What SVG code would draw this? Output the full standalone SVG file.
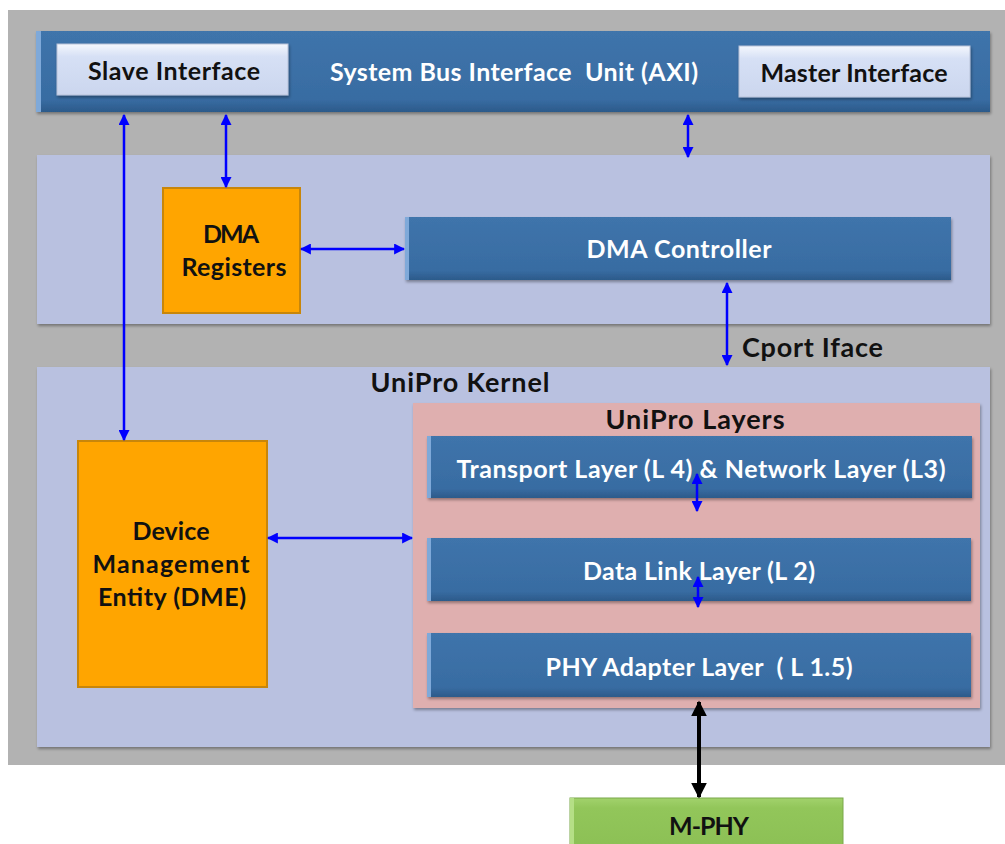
<svg xmlns="http://www.w3.org/2000/svg" width="1005" height="844" viewBox="0 0 1005 844">
  <defs>
    <style>
      .lbl { font-family: Lato, "Liberation Sans", sans-serif; font-weight: bold; font-size: 25px; text-anchor: middle; white-space: pre; }
      .big { font-size: 27px; }
      .dark { fill: #111111; }
      .light { fill: #ffffff; }
      .bar { fill: url(#barGrad); }
      .bevel { fill: #7fa9d9; }
      .panel { fill: #b9c1e0; }
      .orange { fill: #ffa500; stroke: #c8860a; stroke-width: 2; }
      .btn { fill: url(#btnGrad); stroke: #b8c2d8; stroke-width: 1; }
      .blue { stroke: #0000ff; stroke-width: 2.5; fill: none; marker-start: url(#ahB); marker-end: url(#ahB); }
      .black { stroke: #000000; stroke-width: 4; fill: none; marker-start: url(#ahK); marker-end: url(#ahK); }
    </style>
    <linearGradient id="barGrad" x1="0" y1="0" x2="0" y2="1">
      <stop offset="0" stop-color="#3f74ab"/>
      <stop offset="0.85" stop-color="#386ca2"/>
      <stop offset="1" stop-color="#2c5a8a"/>
    </linearGradient>
    <linearGradient id="btnGrad" x1="0" y1="0" x2="0" y2="1">
      <stop offset="0" stop-color="#f4f7fd"/>
      <stop offset="0.25" stop-color="#d6e0f5"/>
      <stop offset="1" stop-color="#cbd6ee"/>
    </linearGradient>
    <linearGradient id="greenGrad" x1="0" y1="0" x2="0" y2="1">
      <stop offset="0" stop-color="#a2d26c"/>
      <stop offset="0.2" stop-color="#92c65a"/>
      <stop offset="1" stop-color="#8cc055"/>
    </linearGradient>
    <filter id="shadow" x="-5%" y="-5%" width="110%" height="120%">
      <feDropShadow dx="1" dy="2" stdDeviation="1.5" flood-color="#000000" flood-opacity="0.35"/>
    </filter>
    <marker id="ahB" viewBox="0 0 10 10" refX="9" refY="5" markerWidth="4.4" markerHeight="4.4" orient="auto-start-reverse" markerUnits="strokeWidth">
      <path d="M0,0 L10,5 L0,10 z" fill="#0000ff"/>
    </marker>
    <marker id="ahK" viewBox="0 0 10 10" refX="9" refY="5" markerWidth="4" markerHeight="4" orient="auto-start-reverse" markerUnits="strokeWidth">
      <path d="M0,0 L10,5 L0,10 z" fill="#000000"/>
    </marker>
  </defs>

  <!-- page background -->
  <rect x="0" y="0" width="1005" height="844" fill="#ffffff"/>
  <rect x="8" y="10" width="997" height="755" fill="#b2b2b2"/>

  <!-- system bus interface unit -->
  <g id="sbiu">
    <rect x="36" y="31" width="954" height="81" class="bar" filter="url(#shadow)"/>
    <rect x="36" y="31" width="5" height="81" class="bevel"/>
    <text x="514" y="81" class="lbl light" textLength="368" lengthAdjust="spacing">System Bus Interface  Unit (AXI)</text>
  </g>
  <g id="slave-interface">
    <rect x="57" y="44" width="231" height="51" class="btn" filter="url(#shadow)"/>
    <text x="174" y="80" class="lbl dark" textLength="172" lengthAdjust="spacing">Slave Interface</text>
  </g>
  <g id="master-interface">
    <rect x="739" y="46" width="231" height="51" class="btn" filter="url(#shadow)"/>
    <text x="854" y="82" class="lbl dark" textLength="187" lengthAdjust="spacing">Master Interface</text>
  </g>

  <!-- DMA section -->
  <g id="dma-section">
    <rect x="37" y="155" width="953" height="169" class="panel" filter="url(#shadow)"/>
  </g>
  <g id="dma-registers">
    <rect x="163" y="188" width="137" height="125" class="orange"/>
    <text x="231" y="243" class="lbl dark" textLength="56" lengthAdjust="spacing">DMA</text>
    <text x="234" y="276" class="lbl dark" textLength="105" lengthAdjust="spacing">Registers</text>
  </g>
  <g id="dma-controller">
    <rect x="405" y="217" width="546" height="63" class="bar" filter="url(#shadow)"/>
    <rect x="405" y="217" width="4" height="63" class="bevel"/>
    <text x="679" y="258" class="lbl light" textLength="185" lengthAdjust="spacing">DMA Controller</text>
  </g>

  <!-- UniPro kernel -->
  <g id="unipro-kernel">
    <rect x="37" y="367" width="953" height="380" class="panel" filter="url(#shadow)"/>
    <text x="460" y="392" class="lbl big dark" textLength="179" lengthAdjust="spacing">UniPro Kernel</text>
  </g>
  <g id="dme">
    <rect x="78" y="441" width="189" height="246" class="orange"/>
    <text x="171" y="540" class="lbl dark" textLength="77" lengthAdjust="spacing">Device</text>
    <text x="171" y="573" class="lbl dark" textLength="157" lengthAdjust="spacing">Management</text>
    <text x="172" y="606" class="lbl dark" textLength="148" lengthAdjust="spacing">Entity (DME)</text>
  </g>
  <g id="unipro-layers">
    <rect x="413" y="403" width="567" height="305" fill="#dfafaf" filter="url(#shadow)"/>
    <text x="695" y="429" class="lbl big dark" textLength="179" lengthAdjust="spacing">UniPro Layers</text>
  </g>
  <g id="transport-layer">
    <rect x="427" y="436" width="545" height="62" class="bar" filter="url(#shadow)"/>
    <rect x="427" y="436" width="4" height="62" class="bevel"/>
    <text x="701" y="478" class="lbl light" textLength="489" lengthAdjust="spacing">Transport Layer (L 4) &amp; Network Layer (L3)</text>
  </g>
  <g id="data-link-layer">
    <rect x="427" y="538" width="544" height="63" class="bar" filter="url(#shadow)"/>
    <rect x="427" y="538" width="4" height="63" class="bevel"/>
    <text x="699" y="580" class="lbl light" textLength="232" lengthAdjust="spacing">Data Link Layer (L 2)</text>
  </g>
  <g id="phy-adapter-layer">
    <rect x="427" y="633" width="544" height="64" class="bar" filter="url(#shadow)"/>
    <rect x="427" y="633" width="4" height="64" class="bevel"/>
    <text x="699" y="676" class="lbl light" textLength="307" lengthAdjust="spacing">PHY Adapter Layer  ( L 1.5)</text>
  </g>

  <!-- M-PHY -->
  <g id="m-phy">
    <rect x="570" y="798" width="273" height="50" fill="url(#greenGrad)" stroke="#7aa84a" stroke-width="1"/>
    <rect x="570" y="798" width="4" height="50" fill="#b5df86"/>
    <text x="709" y="835" class="lbl dark" textLength="80" lengthAdjust="spacing">M-PHY</text>
  </g>

  <!-- connectors -->
  <g id="connectors">
    <line x1="124" y1="115" x2="124" y2="440" class="blue"/>
    <line x1="226" y1="115" x2="226" y2="187" class="blue"/>
    <line x1="688" y1="115" x2="688" y2="157" class="blue"/>
    <line x1="301" y1="249" x2="404" y2="249" class="blue"/>
    <line x1="727" y1="283" x2="727" y2="365" class="blue"/>
    <line x1="268" y1="538" x2="412" y2="538" class="blue"/>
    <line x1="697" y1="474" x2="697" y2="511" class="blue"/>
    <line x1="698" y1="577" x2="698" y2="607" class="blue"/>
    <line x1="699" y1="702" x2="699" y2="797" class="black"/>
    <text x="742" y="357" class="lbl big dark" style="text-anchor:start" textLength="141" lengthAdjust="spacing">Cport Iface</text>
  </g>
</svg>
